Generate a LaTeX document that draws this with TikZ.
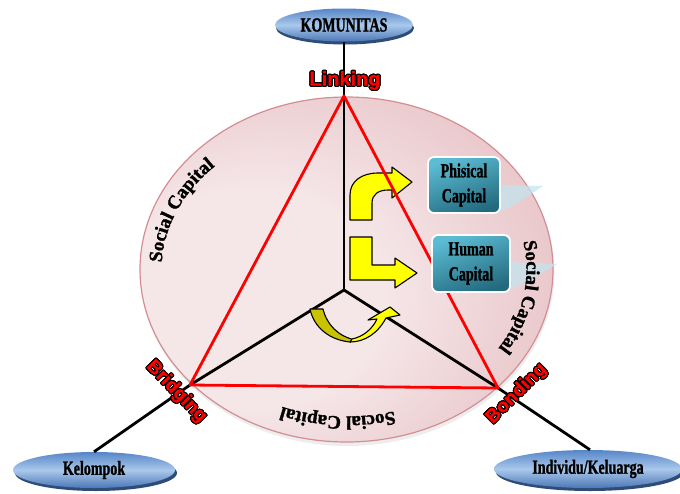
\documentclass[tikz,border=0pt]{standalone}
\usepackage{fontspec}
\usepackage{contour}
\usetikzlibrary{shapes.geometric,decorations.text}
\newfontfamily\condfont[FakeStretch=0.7, FakeBold=1.2]{Liberation Serif}
\newfontfamily\labelfont[FakeBold=0.8]{Liberation Sans}
\newfontfamily\arcfont[FakeBold=1.5]{Liberation Serif}
\contourlength{1.1pt}
\definecolor{pinkin}{HTML}{F5E6E8}
\definecolor{pinkout}{HTML}{DA9FA4}
\definecolor{pinkrim}{HTML}{D38E94}
\definecolor{blueA}{HTML}{5685C8}
\definecolor{blueB}{HTML}{A9C8EB}
\definecolor{blueC}{HTML}{4C77B6}
\definecolor{blueShadow}{HTML}{2E4C78}
\definecolor{tealA}{HTML}{5CBCD4}
\definecolor{tealB}{HTML}{236A7E}
\definecolor{arrowYellow}{HTML}{FFFF00}
\definecolor{arrowOlive}{HTML}{C8C200}
\definecolor{glass}{HTML}{C4E4EF}
\pgfdeclareradialshading{pinkglow}{\pgfpoint{-16bp}{-6bp}}{color(0bp)=(pinkin); color(16bp)=(pinkin); color(54bp)=(pinkout)}
\tikzset{
  ovalnode/.style={ellipse, inner sep=0pt, top color=blueA, bottom color=blueC, middle color=blueB,
    font=\condfont\bfseries\fontsize{20}{22}\selectfont},
  ovalshadow/.style={ellipse, inner sep=0pt, fill=blueShadow},
  capbox/.style={rounded corners=6pt, draw=white, line width=1.8pt, top color=tealA, bottom color=tealB,
    shading angle=20, inner sep=0pt, align=center, text=black,
    font=\condfont\bfseries\fontsize{20}{25}\selectfont},
  spoke/.style={line width=2.8pt, draw=black},
  tri/.style={line width=2.8pt, draw=red},
  tag/.style={text=red, inner sep=0pt, font=\labelfont\bfseries\fontsize{19}{22}\selectfont},
  yarrow/.style={fill=arrowYellow, draw=black, line width=1.1pt},
  oarrow/.style={fill=arrowOlive, draw=black, line width=1.1pt},
  arctext/.style={decorate, decoration={text along path, text align=center,
    text={|\arcfont\bfseries\fontsize{19}{22}\selectfont|Social Capital}}},
}
\begin{document}
\begin{tikzpicture}[x=1pt, y=-1pt, line join=round]
\useasboundingbox (0,0) rectangle (680,493);

% main disc with a soft shadow
\node[ellipse, inner sep=0pt, minimum width=414pt, minimum height=348pt, fill=gray!40, opacity=.35] at (347.5,272) {};
\node[ellipse, inner sep=0pt, minimum width=413pt, minimum height=345pt, shading=pinkglow,
      draw=pinkrim, line width=1.2pt] (disc) at (346.5,269.5) {};

% glassy reflections behind the capital boxes
\fill[glass, opacity=.75] (498,185) -- (543,186) .. controls (528,196) and (515,206) .. (498,212) -- cycle;
\fill[glass, opacity=.75] (508,262) -- (557,264) .. controls (540,274) and (525,284) .. (508,290) -- cycle;

% end nodes
\node[ovalshadow, minimum width=138pt, minimum height=33pt] at (345,28) {};
\node[ovalnode, minimum width=138pt, minimum height=33pt] (kom) at (344,25) {KOMUNITAS};
\node[ovalshadow, minimum width=162pt, minimum height=36pt] at (96,473) {};
\node[ovalnode, minimum width=162pt, minimum height=36pt] (kel) at (94,470) {Kelompok};
\node[ovalshadow, minimum width=188pt, minimum height=38pt] at (590,472) {};
\node[ovalnode, minimum width=188pt, minimum height=38pt] (ind) at (588,469) {Individu/Keluarga};

% triangle corners and hub
\coordinate (vtop) at (344,96);
\coordinate (vleft) at (190,385);
\coordinate (vright) at (498,388);
\coordinate (hub) at (344,290);

% spokes
\draw[spoke] (kom) -- (hub);
\draw[spoke] (hub) -- (vleft) -- (kel.north);
\draw[spoke] (hub) -- (vright) -- (ind.84);

% yellow arrows
\draw[yarrow] (350,220) -- (350,195) .. controls (350,181) and (362,173) .. (378,173)
  -- (392,173) -- (392,167) -- (412,182) -- (392,198) -- (392,190) -- (388,190)
  .. controls (379,190) and (372,194) .. (372,203) -- (372,220) -- cycle;
\draw[yarrow] (350,237) -- (372,237) -- (372,265) -- (395,265) -- (395,258) -- (417,273)
  -- (395,288) -- (395,280) -- (350,280) -- cycle;
\draw[oarrow] (310,309) -- (323,309) .. controls (327,325) and (338,336) .. (355,340)
  -- (350,342) .. controls (330,340) and (314,328) .. (310,309) -- cycle;
\draw[yarrow] (350,342) .. controls (365,342) and (378,333) .. (386,318) -- (400,315)
  -- (390,307) -- (368,320) -- (377,319) .. controls (372,330) and (362,337) .. (352,339) -- cycle;

% triangle
\draw[tri] (vtop) -- (vleft) -- (vright) -- cycle;

% capital boxes
\node[capbox, minimum width=72pt, minimum height=56pt] (phys) at (464,185) {Phisical\\Capital};
\node[capbox, minimum width=78pt, minimum height=57pt] (hum) at (471,263.5) {Human\\Capital};

% corner tags
\node[tag, font=\labelfont\bfseries\fontsize{20}{22}\selectfont] (lk) at (345,81) {\contour{black}{Linking}};
\node[tag, rotate=-46] (bg) at (176,392) {\contour{black}{Bridging}};
\node[tag, rotate=45] (bd) at (517,394) {\contour{black}{Bonding}};

% curved captions along the disc
\path[arctext] plot[domain=158:246, samples=89] ({346.5+185*cos(\x)}, {269.5+147*sin(\x)});
\path[arctext] plot[domain=-34:54, samples=89] ({346.5+180*cos(\x)}, {269.5+147*sin(\x)});
\path[arctext] plot[domain=49:137, samples=89] ({346.5+181*cos(\x)}, {269.5+147*sin(\x)});
\end{tikzpicture}
\end{document}
